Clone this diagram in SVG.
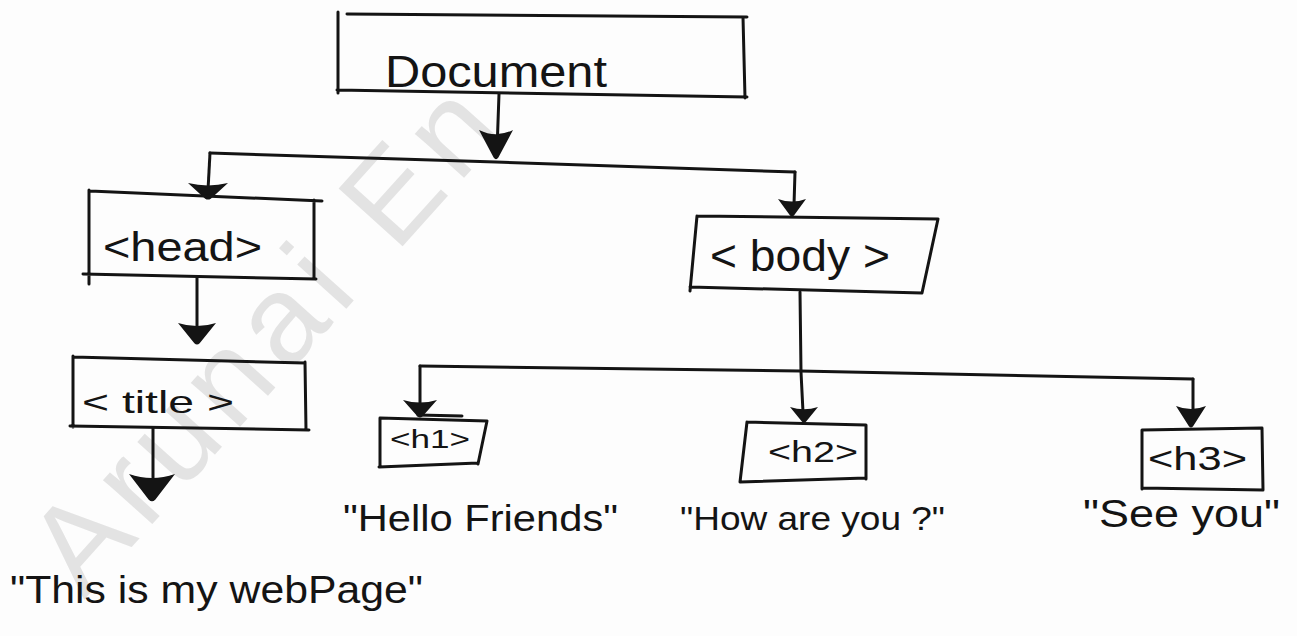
<svg xmlns="http://www.w3.org/2000/svg" width="1297" height="636" viewBox="0 0 1297 636">
  <style>
    .ln { stroke: #141414; stroke-width: 3; fill: none; stroke-linecap: round; stroke-linejoin: round; }
    .tx { font-family: "Liberation Sans", Arial, sans-serif; fill: #141414; }
    .wm { font-family: "Liberation Sans", Arial, sans-serif; fill: #e3e3e3; letter-spacing: 10px; }
    .ah { fill: #141414; }
  </style>
  <defs>
    <!-- downward arrowhead, tip at origin, spans x -1..1 and y -1..0 -->
    <path id="ah" d="M-1,-1 Q0,-0.72 1,-1 L0.14,-0.08 Q0,0.03 -0.14,-0.08 Z"/>
  </defs>

  <rect width="1297" height="636" fill="#fdfdfd"/>

  <!-- faint diagonal watermark -->
  <text class="wm" font-size="125" x="0" y="0" transform="translate(84,600) rotate(-48)">Arunai En</text>

  <g id="connectors">
    <path class="ln" d="M499,94 L497,150"/>
    <path class="ln" d="M210,153 L496,162 L795,172"/>
    <path class="ln" d="M210,153 L208,190"/>
    <path class="ln" d="M795,172 L794,205"/>
    <path class="ln" d="M197,278 L197,330"/>
    <path class="ln" d="M153,428 L153,485"/>
    <path class="ln" d="M800,292 L801,372 L803,412"/>
    <path class="ln" d="M420,366 L800,371 L1193,379"/>
    <path class="ln" d="M420,366 L420,408"/>
    <path class="ln" d="M1193,379 L1193,415"/>
    <use href="#ah" class="ah" transform="translate(496,160) scale(17,30)"/>
    <use href="#ah" class="ah" transform="translate(208,200) scale(20,17)"/>
    <use href="#ah" class="ah" transform="translate(792,217) scale(14,18)"/>
    <use href="#ah" class="ah" transform="translate(197,345) scale(19,22)"/>
    <use href="#ah" class="ah" transform="translate(152,502) scale(23,28)"/>
    <use href="#ah" class="ah" transform="translate(420,418) scale(17,18)"/>
    <use href="#ah" class="ah" transform="translate(804,423) scale(14,16)"/>
    <use href="#ah" class="ah" transform="translate(1191,428) scale(15,22)"/>
  </g>

  <g id="node-document">
    <path class="ln" d="M347,14 L747,17 M338,12 L338,93 M743,17 L745,98 M337,90 L747,97"/>
    <text class="tx" x="385" y="87" font-size="44" textLength="222" lengthAdjust="spacingAndGlyphs">Document</text>
  </g>

  <g id="node-head">
    <path class="ln" d="M90,191 L322,201 M89,190 L89,284 M314,200 L314,278 M83,274 L316,279"/>
    <text class="tx" x="103" y="261" font-size="40" textLength="159" lengthAdjust="spacingAndGlyphs">&lt;head&gt;</text>
  </g>

  <g id="node-title">
    <path class="ln" d="M73,357 L305,363 M73,356 L73,427 M305,362 L306,430 M70,426 L309,430"/>
    <text class="tx" x="82" y="413" font-size="32" textLength="152" lengthAdjust="spacingAndGlyphs">&lt; title &gt;</text>
  </g>

  <g id="node-body">
    <path class="ln" d="M697,216 L938,219 M697,216 L690,291 M938,219 L922,293 M690,287 L922,293"/>
    <text class="tx" x="710" y="271" font-size="44" textLength="180" lengthAdjust="spacingAndGlyphs">&lt; body &gt;</text>
  </g>

  <g id="node-h1">
    <path class="ln" d="M380,418 L487,421 M418,415 L462,416 M380,418 L380,467 M487,421 L478,464 M379,467 L478,463"/>
    <text class="tx" x="390" y="448" font-size="26" textLength="80" lengthAdjust="spacingAndGlyphs">&lt;h1&gt;</text>
  </g>

  <g id="node-h2">
    <path class="ln" d="M747,422 L866,425 M747,422 L740,482 M866,425 L866,479 M740,482 L866,478"/>
    <text class="tx" x="768" y="462" font-size="30" textLength="90" lengthAdjust="spacingAndGlyphs">&lt;h2&gt;</text>
  </g>

  <g id="node-h3">
    <path class="ln" d="M1142,430 L1262,428 M1142,430 L1142,489 M1262,428 L1263,490 M1142,488 L1263,490"/>
    <text class="tx" x="1148" y="470" font-size="34" textLength="99" lengthAdjust="spacingAndGlyphs">&lt;h3&gt;</text>
  </g>

  <g id="text-title">
    <text class="tx" x="10" y="603" font-size="38" textLength="413" lengthAdjust="spacingAndGlyphs">"This is my webPage"</text>
  </g>
  <g id="text-h1">
    <text class="tx" x="343" y="531" font-size="36" textLength="275" lengthAdjust="spacingAndGlyphs">"Hello Friends"</text>
  </g>
  <g id="text-h2">
    <text class="tx" x="680" y="530" font-size="34" textLength="265" lengthAdjust="spacingAndGlyphs">"How are you ?"</text>
  </g>
  <g id="text-h3">
    <text class="tx" x="1083" y="527" font-size="38" textLength="197" lengthAdjust="spacingAndGlyphs">"See you"</text>
  </g>
</svg>
